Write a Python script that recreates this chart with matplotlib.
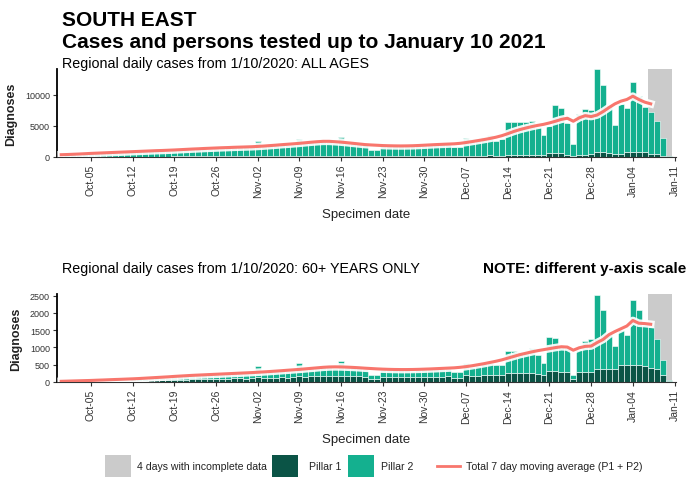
import numpy as np
import pandas as pd
import matplotlib
matplotlib.use("Agg")
import matplotlib.pyplot as plt
from matplotlib.patches import Rectangle
from matplotlib.lines import Line2D

plt.rcParams["font.family"] = ["Liberation Sans", "DejaVu Sans"]

# daily bars 1 Oct 2020 - 10 Jan 2021
dates = pd.date_range("2020-10-01", "2021-01-10")
# 7 day moving average 30 Sep 2020 - 7 Jan 2021
ma_dates = pd.date_range("2020-09-30", "2021-01-07")

all_total = [
    350, 420, 380, 450, 560, 620, 700, 760, 720, 690, 740, 880, 920, 950, 980, 1000,
    950, 990, 1150, 1220, 1280, 1330, 1350, 1300, 1320, 1480, 1520, 1560, 1600, 1620, 1550,
    1580, 2500, 1850, 1900, 1950, 2000, 1900, 1950, 2950, 2300, 2350, 2450, 2500, 2350, 2300,
    3150, 2400, 2300, 2150, 2000, 1050, 1100, 1900, 1850, 1800, 1800, 1780, 1700, 1750, 1950,
    1950, 2000, 2050, 2100, 1600, 1600, 3050, 2900, 2900, 3170, 3550, 2650, 2900, 5700, 5700,
    5700, 5600, 5750, 4800, 3550, 4950, 8300, 7850, 5450, 2100, 6950, 7650, 7600, 14100, 11500, 8300,
    5200, 8550, 7850, 12050, 9800, 8000, 7200, 5850, 3000, 150,
]
all_p1 = [
    20, 25, 25, 30, 35, 40, 45, 50, 50, 50, 55, 60, 65, 70, 70, 75,
    70, 75, 85, 90, 95, 100, 100, 95, 95, 110, 115, 120, 120, 125, 115,
    120, 140, 140, 145, 150, 150, 140, 145, 160, 170, 175, 180, 185, 175, 170,
    185, 180, 170, 160, 150, 90, 95, 150, 145, 140, 140, 140, 130, 135, 160,
    165, 170, 175, 180, 120, 120, 230, 220, 220, 240, 260, 200, 210, 380, 380,
    380, 370, 380, 330, 250, 600, 620, 600, 380, 150, 380, 400, 420, 750, 740, 700,
    480, 500, 860, 880, 860, 820, 560, 480, 200, 20,
]
all_ma = [
    370,
    400, 440, 480, 530, 580, 620, 660, 700, 740, 780, 820, 860, 900, 940, 980, 1020,
    1050, 1090, 1130, 1180, 1230, 1280, 1320, 1370, 1410, 1450, 1490, 1520, 1560, 1590, 1620,
    1650, 1700, 1760, 1830, 1900, 1980, 2050, 2120, 2200, 2290, 2380, 2460, 2520, 2520, 2460,
    2390, 2300, 2200, 2100, 2000, 1940, 1890, 1840, 1810, 1790, 1780, 1790, 1810, 1850, 1900,
    1950, 2000, 2040, 2080, 2120, 2200, 2330, 2480, 2640, 2800, 2980, 3180, 3430, 3750, 4100,
    4400, 4650, 4880, 5080, 5250, 5480, 5750, 6050, 6230, 5750, 6300, 6650, 6500, 6750, 7300, 7950,
    8550, 8980, 9250, 9780, 9250, 8820, 8550,
]

old_total = [
    15, 20, 20, 25, 35, 40, 50, 55, 60, 60, 65, 80, 95, 100, 110, 120,
    115, 120, 160, 170, 180, 190, 200, 190, 195, 230, 240, 250, 255, 260, 250,
    255, 470, 300, 310, 320, 330, 320, 330, 550, 380, 400, 430, 440, 420, 410,
    610, 440, 420, 400, 380, 200, 210, 370, 360, 350, 350, 345, 330, 340, 370,
    375, 380, 390, 400, 300, 300, 550, 430, 460, 530, 560, 480, 480, 890, 890,
    870, 870, 980, 790, 560, 1300, 1280, 1010, 980, 210, 920, 1200, 1230, 2530, 2070, 1400,
    1040, 1490, 1350, 2360, 2070, 1640, 1590, 1250, 630, 70,
]
old_p1 = [
    5, 8, 8, 10, 14, 16, 20, 22, 24, 24, 26, 32, 38, 40, 44, 48,
    46, 48, 64, 68, 72, 76, 80, 76, 78, 92, 96, 100, 102, 104, 100,
    102, 150, 120, 124, 128, 132, 128, 132, 160, 150, 160, 170, 175, 168, 164,
    180, 176, 168, 160, 152, 90, 95, 148, 144, 140, 140, 138, 132, 136, 150,
    150, 152, 156, 160, 120, 120, 200, 170, 180, 200, 210, 190, 190, 260, 260,
    255, 255, 270, 240, 200, 310, 310, 300, 290, 80, 280, 290, 300, 380, 390, 370,
    380, 480, 480, 500, 490, 470, 400, 380, 190, 20,
]
old_ma = [
    20,
    25, 30, 35, 40, 45, 52, 58, 65, 72, 78, 85, 92, 100, 110, 120, 130,
    140, 150, 162, 172, 182, 192, 200, 208, 216, 224, 232, 240, 248, 256, 264,
    272, 282, 292, 303, 315, 327, 340, 352, 365, 380, 395, 410, 425, 435, 438,
    436, 430, 422, 412, 400, 390, 380, 372, 366, 362, 360, 360, 362, 366, 372,
    378, 386, 394, 402, 410, 425, 445, 470, 500, 530, 565, 600, 640, 690, 740,
    790, 830, 870, 905, 935, 965, 995, 1020, 1010, 920, 990, 1030, 1040, 1140, 1230, 1370,
    1460, 1540, 1620, 1780, 1700, 1690, 1670,
]

P1_COL = "#0b5446"
P2_COL = "#14b08f"
MA_COL = "#f8766d"
GREY = "#cbcbcb"
TXT = "#222222"

W, H = 694, 485
fig = plt.figure(figsize=(W / 100, H / 100), dpi=100)


def fx(x):
    return x / W


def fy(y):
    return 1 - y / H


def panel(top, total, p1, ma, ymax, yticks):
    ax = fig.add_axes([fx(57), fy(top + 88), fx(676) - fx(57), 88 / H])
    p1 = np.array(p1)
    p2 = np.array(total) - p1
    ax.axvspan(pd.Timestamp("2021-01-06 12:00"), pd.Timestamp("2021-01-10 12:00"),
               color=GREY, lw=0, zorder=0)
    ax.bar(dates, p1, width=1, color=P1_COL, edgecolor="white", linewidth=0.4, zorder=2)
    ax.bar(dates, p2, bottom=p1, width=1, color=P2_COL, edgecolor="white", linewidth=0.4, zorder=2)
    ax.plot(ma_dates, ma, color="white", lw=5.5, zorder=3, alpha=0.92)
    ax.plot(ma_dates, ma, color=MA_COL, lw=2.2, zorder=4)
    ax.set_xlim(pd.Timestamp("2020-09-29 07:00"), pd.Timestamp("2021-01-11 06:00"))
    ax.set_ylim(0, ymax)
    ticks = pd.date_range("2020-10-05", "2021-01-11", freq="7D")
    ax.set_xticks(ticks)
    ax.set_xticklabels([t.strftime("%b-%d") for t in ticks], rotation=90,
                       fontsize=7.5, color="#333333")
    ax.set_yticks(yticks)
    ax.set_yticklabels([str(v) for v in yticks], fontsize=6.5, color="#333333")
    ax.tick_params(axis="both", length=3, width=0.8, color="#333333", pad=2)
    for s in ["top", "right"]:
        ax.spines[s].set_visible(False)
    ax.spines["left"].set_linewidth(1.3)
    ax.spines["left"].set_color("black")
    ax.spines["bottom"].set_linewidth(0.8)
    ax.spines["bottom"].set_color("#333333")
    ax.set_xlabel("Specimen date", fontsize=9.5, color=TXT, labelpad=7)
    ax.set_ylabel("Diagnoses", fontsize=9, fontweight="bold", color=TXT, labelpad=6)
    return ax


ax1 = panel(70, all_total, all_p1, all_ma, 14150, [0, 5000, 10000])
ax2 = panel(295, old_total, old_p1, old_ma, 2545, [0, 500, 1000, 1500, 2000, 2500])

fig.text(fx(62), fy(26), "SOUTH EAST", fontsize=15, fontweight="bold", color="black", va="baseline")
fig.text(fx(62), fy(48), "Cases and persons tested up to January 10 2021", fontsize=15,
         fontweight="bold", color="black", va="baseline")
fig.text(fx(62), fy(68), "Regional daily cases from 1/10/2020: ALL AGES", fontsize=10.3,
         color="black", va="baseline")
fig.text(fx(62), fy(273), "Regional daily cases from 1/10/2020: 60+ YEARS ONLY", fontsize=10.3,
         color="black", va="baseline")
fig.text(fx(483), fy(273), "NOTE: different y-axis scale", fontsize=11, fontweight="bold",
         color="black", va="baseline")

# legend
ly = 467
keys = [
    (105, GREY, "4 days with incomplete data", 137),
    (272, P1_COL, "Pillar 1", 309),
    (348, P2_COL, "Pillar 2", 381),
]
for x0, col, lab, tx in keys:
    fig.add_artist(Rectangle((fx(x0), fy(ly + 11)), 26 / W, 22 / H, transform=fig.transFigure,
                             facecolor=col, edgecolor="none"))
    fig.text(fx(tx), fy(ly), lab, fontsize=7.6, color=TXT, va="center")
fig.add_artist(Line2D([fx(437), fx(460)], [fy(ly), fy(ly)], transform=fig.transFigure,
                      color=MA_COL, lw=2))
fig.text(fx(466), fy(ly), "Total 7 day moving average (P1 + P2)", fontsize=7.6, color=TXT, va="center")

fig.savefig("out.png", dpi=100)
